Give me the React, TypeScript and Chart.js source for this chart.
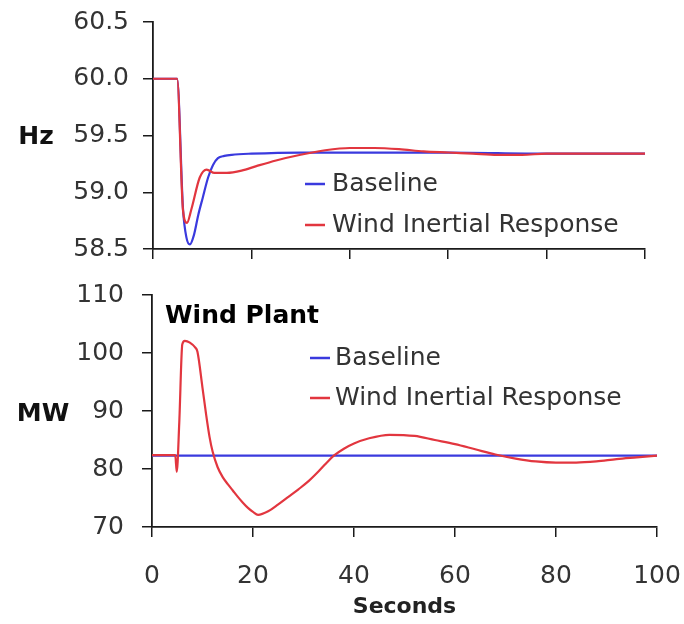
import React, { useEffect, useRef } from "react";
import { Chart, registerables } from "chart.js";

Chart.register(...registerables);

// ---------- DATA ----------
const secondsTicks = [0, 20, 40, 60, 80, 100];
const hzTicks = [58.5, 59.0, 59.5, 60.0, 60.5];
const mwTicks = [70, 80, 90, 100, 110];

const seriesNames = ["Baseline", "Wind Inertial Response"];

// Frequency (Hz) – top panel
const hzBaselineTime = [0, 4.9, 6.1, 6.8, 7.5, 8.3, 9.2, 10.1, 11.2, 12.2, 13.2, 14.5, 16, 20, 30, 40, 60, 80, 100];
const hzBaselineValue = [60.0, 60.0, 58.85, 58.6, 58.54, 58.62, 58.8, 58.95, 59.13, 59.24, 59.3, 59.32, 59.33, 59.34, 59.35, 59.35, 59.35, 59.34, 59.34];

const hzWindTime = [0, 4.9, 6.1, 6.9, 7.8, 9.5, 10.9, 12.5, 15, 18, 21, 25, 30, 35, 40, 45, 50, 55, 60, 65, 70, 75, 80, 90, 100];
const hzWindValue = [60.0, 60.0, 58.84, 58.73, 58.85, 59.13, 59.2, 59.17, 59.17, 59.19, 59.23, 59.28, 59.33, 59.37, 59.39, 59.39, 59.38, 59.36, 59.35, 59.34, 59.33, 59.33, 59.34, 59.34, 59.34];

// Wind plant output (MW) – bottom panel
const mwBaselineTime = [0, 20, 40, 60, 80, 100];
const mwBaselineValue = [82.3, 82.3, 82.3, 82.3, 82.3, 82.3];

const mwWindTime = [0, 4.6, 4.9, 5.4, 6.0, 6.5, 7.5, 8.5, 9.0, 10.0, 10.7, 11.4, 12.0, 13.0, 14.0, 15.0, 16, 17, 18, 19, 20, 21, 23, 25, 27, 29, 31, 33, 34.5, 36, 38, 40, 43, 47, 52, 56, 60, 64, 68, 72, 76, 80, 84, 88, 92, 96, 100];
const mwWindValue = [82.4, 82.4, 79.5, 88, 101.5, 102.1, 101.8, 101.0, 100.2, 94, 89.5, 85.5, 83.0, 80.3, 78.6, 77.4, 76.3, 75.2, 74.2, 73.3, 72.6, 72.1, 72.7, 73.9, 75.2, 76.5, 77.9, 79.6, 81.0, 82.3, 83.5, 84.4, 85.3, 85.9, 85.7, 85.0, 84.3, 83.4, 82.5, 81.8, 81.3, 81.1, 81.1, 81.3, 81.7, 82.0, 82.3];

// ---------- STYLE ----------
const RED = "#e2363f";
const BLUE = "#3a3ade";
const AXIS = "#1a1a1a";
const TEXT = "#333333";
const FONT = "'DejaVu Sans', sans-serif";

const toPoints = (xs: number[], ys: number[]) => xs.map((x, i) => ({ x, y: ys[i] }));

type TextItem = { text: string; x: number; y: number; font: string; color: string; align?: CanvasTextAlign; baseline?: CanvasTextBaseline };
type DashItem = { x1: number; x2: number; y: number; color: string };

const makeOverlay = (texts: TextItem[], dashes: DashItem[]) => ({
  id: "overlayText",
  afterDraw(chart: any) {
    const ctx: CanvasRenderingContext2D = chart.ctx;
    ctx.save();
    for (const d of dashes) {
      ctx.strokeStyle = d.color;
      ctx.lineWidth = 2.5;
      ctx.beginPath();
      ctx.moveTo(d.x1, d.y);
      ctx.lineTo(d.x2, d.y);
      ctx.stroke();
    }
    for (const t of texts) {
      ctx.font = t.font;
      ctx.fillStyle = t.color;
      ctx.textAlign = t.align || "left";
      ctx.textBaseline = t.baseline || "middle";
      ctx.fillText(t.text, t.x, t.y);
    }
    ctx.restore();
  },
});

const axisGrid = { drawOnChartArea: false, drawTicks: true, tickLength: 10, color: AXIS, lineWidth: 1.5 };
const axisBorder = { display: true, color: AXIS, width: 1.8 };

const fixWidth = (w: number) => (s: any) => {
  s.width = w;
  s.paddingTop = 0;
  s.paddingBottom = 0;
};
const fixHeight = (h: number) => (s: any) => {
  s.height = h;
  s.paddingLeft = 0;
  s.paddingRight = 0;
};

function useChart(ref: React.RefObject<HTMLCanvasElement | null>, build: () => any) {
  useEffect(() => {
    if (!ref.current) return;
    const chart = new Chart(ref.current, build());
    return () => chart.destroy();
  }, []);
}

export default function App() {
  const topRef = useRef<HTMLCanvasElement | null>(null);
  const botRef = useRef<HTMLCanvasElement | null>(null);

  useChart(topRef, () => ({
    type: "line",
    data: {
      datasets: [
        {
          label: seriesNames[1],
          data: toPoints(hzWindTime, hzWindValue),
          borderColor: RED,
          borderWidth: 2.2,
          pointRadius: 0,
          cubicInterpolationMode: "monotone",
          order: 0,
        },
        {
          label: seriesNames[0],
          data: toPoints(hzBaselineTime, hzBaselineValue),
          borderColor: BLUE,
          borderWidth: 2.2,
          pointRadius: 0,
          cubicInterpolationMode: "monotone",
          order: 1,
        },
      ],
    },
    options: {
      animation: false,
      responsive: false,
      devicePixelRatio: 1,
      layout: { padding: { top: 22, right: 39, left: 0, bottom: 0 } },
      plugins: { legend: { display: false }, tooltip: { enabled: false } },
      scales: {
        x: {
          type: "linear",
          min: secondsTicks[0],
          max: secondsTicks[secondsTicks.length - 1],
          afterBuildTicks: (s: any) => { s.ticks = secondsTicks.map((v) => ({ value: v })); },
          ticks: { display: false },
          grid: axisGrid,
          border: axisBorder,
          afterFit: fixHeight(21),
        },
        y: {
          min: hzTicks[0],
          max: hzTicks[hzTicks.length - 1],
          afterBuildTicks: (s: any) => { s.ticks = hzTicks.map((v) => ({ value: v })); },
          ticks: { color: TEXT, font: { family: FONT, size: 25 }, padding: 14, callback: (v: any) => Number(v).toFixed(1) },
          grid: axisGrid,
          border: axisBorder,
          afterFit: fixWidth(153),
        },
      },
    },
    plugins: [
      makeOverlay(
        [
          { text: "Hz", x: 36, y: 137, font: `bold 25px ${FONT}`, color: "#111", align: "center" },
          { text: seriesNames[0], x: 332, y: 184, font: `25px ${FONT}`, color: TEXT },
          { text: seriesNames[1], x: 332, y: 225, font: `25px ${FONT}`, color: TEXT },
        ],
        [
          { x1: 305, x2: 325, y: 184, color: BLUE },
          { x1: 305, x2: 325, y: 225, color: RED },
        ]
      ),
    ],
  }));

  useChart(botRef, () => ({
    type: "line",
    data: {
      datasets: [
        {
          label: seriesNames[1],
          data: toPoints(mwWindTime, mwWindValue),
          borderColor: RED,
          borderWidth: 2.2,
          pointRadius: 0,
          cubicInterpolationMode: "monotone",
          order: 0,
        },
        {
          label: seriesNames[0],
          data: toPoints(mwBaselineTime, mwBaselineValue),
          borderColor: BLUE,
          borderWidth: 2.2,
          pointRadius: 0,
          order: 1,
        },
      ],
    },
    options: {
      animation: false,
      responsive: false,
      devicePixelRatio: 1,
      layout: { padding: { top: 25, right: 27, left: 0, bottom: 0 } },
      plugins: { legend: { display: false }, tooltip: { enabled: false } },
      scales: {
        x: {
          type: "linear",
          min: secondsTicks[0],
          max: secondsTicks[secondsTicks.length - 1],
          afterBuildTicks: (s: any) => { s.ticks = secondsTicks.map((v) => ({ value: v })); },
          ticks: { color: TEXT, font: { family: FONT, size: 25 }, padding: 24, maxRotation: 0 },
          grid: axisGrid,
          border: axisBorder,
          title: {
            display: true,
            text: "Seconds",
            color: "#222",
            font: { family: FONT, size: 22, weight: "bold" },
            padding: { top: 0, bottom: 4 },
          },
          afterFit: fixHeight(97),
        },
        y: {
          min: mwTicks[0],
          max: mwTicks[mwTicks.length - 1],
          afterBuildTicks: (s: any) => { s.ticks = mwTicks.map((v) => ({ value: v })); },
          ticks: { color: TEXT, font: { family: FONT, size: 25 }, padding: 18 },
          grid: axisGrid,
          border: axisBorder,
          afterFit: fixWidth(152),
        },
      },
    },
    plugins: [
      makeOverlay(
        [
          { text: "MW", x: 43, y: 144, font: `bold 25px ${FONT}`, color: "#111", align: "center" },
          { text: "Wind Plant", x: 165, y: 53, font: `bold 25px ${FONT}`, color: "#000", baseline: "alphabetic" },
          { text: seriesNames[0], x: 335, y: 88, font: `25px ${FONT}`, color: TEXT },
          { text: seriesNames[1], x: 335, y: 128, font: `25px ${FONT}`, color: TEXT },
        ],
        [
          { x1: 310, x2: 330, y: 88, color: BLUE },
          { x1: 310, x2: 330, y: 128, color: RED },
        ]
      ),
    ],
  }));

  return (
    <div style={{ position: "absolute", left: 0, top: 0, width: 684, height: 624, background: "#fff" }}>
      <canvas ref={topRef} width={684} height={270} style={{ position: "absolute", left: 0, top: 0 }} />
      <canvas ref={botRef} width={684} height={354} style={{ position: "absolute", left: 0, top: 270 }} />
    </div>
  );
}
